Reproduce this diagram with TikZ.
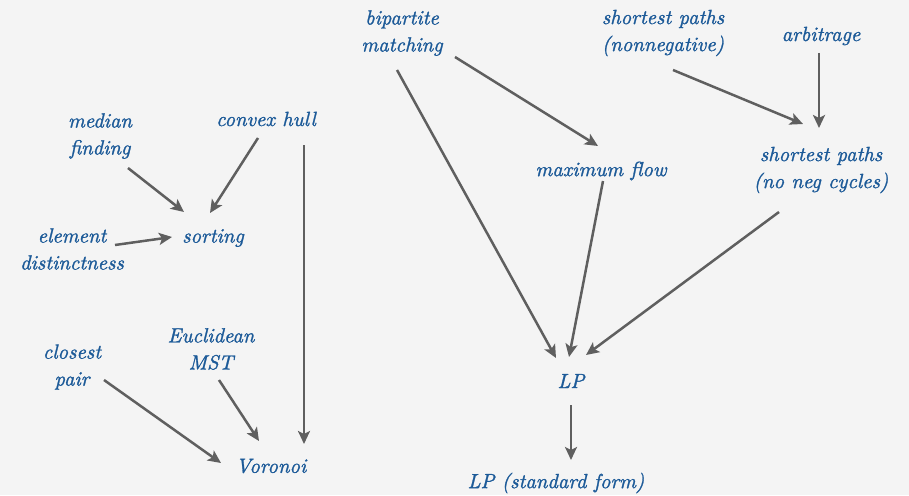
\documentclass[tikz,border=0pt]{standalone}
\usepackage{fontspec}
\newfontfamily\labelfont{lmroman10-italic.otf}[FakeBold=1.3]
\usetikzlibrary{arrows.meta}
\definecolor{bg}{HTML}{F4F4F4}
\definecolor{lbl}{HTML}{1C5A98}
\definecolor{edge}{HTML}{5F5F5F}
\tikzset{
  prob/.style={text=lbl, font=\labelfont\fontsize{20.5}{27}\selectfont, align=center, inner sep=0pt},
  arr/.style={draw=edge, line width=2.5pt, -{Stealth[length=13pt,width=12pt,inset=3pt]}}
}
\begin{document}
\begin{tikzpicture}[x=1pt,y=-1pt]
  \fill[bg] (0,0) rectangle (909,495);
  \useasboundingbox (0,0) rectangle (909,495);

  % problems
  \node[prob] (med)  at (100,136) {median\\finding};
  \node[prob] (cvx)  at (266,119) {convex hull};
  \node[prob] (elem) at (72,249)  {element\\distinctness};
  \node[prob] (sort) at (213,238) {sorting};
  \node[prob] (cp)   at (72,367)  {closest\\pair};
  \node[prob] (mst)  at (211,349) {Euclidean\\MST};
  \node[prob] (vor)  at (271,466) {Voronoi};
  \node[prob] (bip)  at (402,33)  {bipartite\\matching};
  \node[prob] (mf)   at (601,171) {maximum flow};
  \node[prob] (spn)  at (663,33)  {shortest paths\\(nonnegative)};
  \node[prob] (arb)  at (821,36)  {arbitrage};
  \node[prob] (spc)  at (821,170) {shortest paths\\(no neg cycles)};
  \node[prob] (lp)   at (571,381) {LP};
  \node[prob] (lps)  at (556,483) {LP (standard form)};

  % reductions
  \draw[arr] ([shift={(28,32)}]med.center)  -- ([shift={(-29,-26)}]sort.center);
  \draw[arr] ([shift={(-8,19)}]cvx.center)  -- ([shift={(-3,-25)}]sort.center);
  \draw[arr] ([shift={(43,-4)}]elem.center) -- ([shift={(-41,-1)}]sort.center);
  \draw[arr] ([shift={(38,26)}]cvx.center)  -- ([shift={(33,-22)}]vor.center);
  \draw[arr] ([shift={(32,13)}]cp.center)   -- ([shift={(-50,-3)}]vor.center);
  \draw[arr] ([shift={(8,31)}]mst.center)   -- ([shift={(-12,-25)}]vor.center);
  \draw[arr] ([shift={(53,24)}]bip.center)  -- ([shift={(-3,-25)}]mf.center);
  \draw[arr] ([shift={(-5,37)}]bip.center)  -- ([shift={(-15,-23)}]lp.center);
  \draw[arr] ([shift={(2,10)}]mf.center)    -- ([shift={(-2,-24)}]lp.center);
  \draw[arr] ([shift={(-42,42)}]spc.center) -- ([shift={(15,-26)}]lp.center);
  \draw[arr] ([shift={(10,37)}]spn.center)  -- ([shift={(-18,-46)}]spc.center);
  \draw[arr] ([shift={(-2,17)}]arb.center)  -- ([shift={(-2,-42)}]spc.center);
  \draw[arr] ([shift={(0,24)}]lp.center)    -- ([shift={(15,-23)}]lps.center);
\end{tikzpicture}
\end{document}
